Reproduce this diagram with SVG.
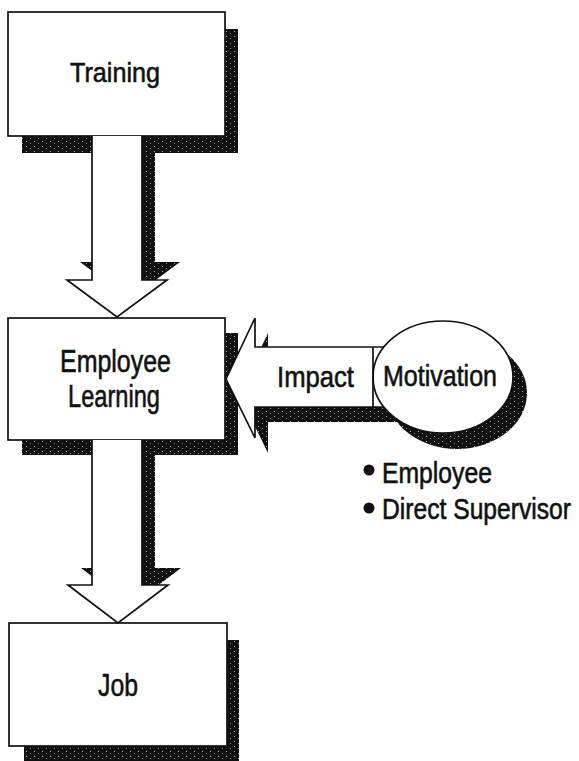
<svg xmlns="http://www.w3.org/2000/svg" width="579" height="761" viewBox="0 0 579 761">
<defs>
<pattern id="stip" width="8" height="5" patternUnits="userSpaceOnUse">
<rect width="8" height="5" fill="#111"/>
<rect x="2" y="1" width="1" height="1" fill="#aaa"/>
<rect x="6" y="3" width="1" height="1" fill="#888"/>
</pattern>
</defs>
<style>
.sh{fill:url(#stip);stroke:none}
.box{fill:#fff;stroke:#111;stroke-width:1.7}
.fill{fill:#fff;stroke:none}
.ln{fill:none;stroke:#111;stroke-width:1.7;stroke-linejoin:miter}
.t{font-family:"Liberation Sans",Arial,sans-serif;fill:#111;stroke:#111;stroke-width:0.6}
</style>
<rect width="579" height="761" fill="#fff"/>

<!-- arrow shadows -->
<g id="arrow-shadows">
<polygon class="sh" points="105,118 155,118 155,262 180,262 130,299 80,262 105,262"/>
<polygon class="sh" points="105,423 155,423 155,568 181,568 131,606 81,568 105,568"/>
<polygon class="sh" points="239,394 268,333 268,362 400,362 400,422 268,422 268,453"/>
</g>

<!-- node shadows -->
<g id="node-shadows">
<rect class="sh" x="22" y="29" width="216" height="124"/>
<rect class="sh" x="22" y="333" width="216" height="122"/>
<rect class="sh" x="24" y="640" width="215" height="121"/>
<ellipse class="sh" cx="457" cy="393" rx="70" ry="56"/>
</g>

<g id="training">
<rect class="box" x="8" y="12" width="217" height="124"/>
<text class="t" x="70" y="82" font-size="28" textLength="90" lengthAdjust="spacingAndGlyphs">Training</text>
</g>

<g id="employee-learning">
<rect class="box" x="8" y="318" width="217" height="122"/>
<text class="t" x="60" y="372" font-size="32" textLength="111" lengthAdjust="spacingAndGlyphs">Employee</text>
<text class="t" x="68" y="407" font-size="32" textLength="92" lengthAdjust="spacingAndGlyphs">Learning</text>
</g>

<g id="job">
<rect class="box" x="9" y="623" width="218" height="123"/>
<text class="t" x="98" y="696" font-size="32" textLength="40" lengthAdjust="spacingAndGlyphs">Job</text>
</g>

<g id="connectors">
<g id="arrow-training-learning">
<polygon class="fill" points="92,136 142,136 142,280 167,280 117,317 67,280 92,280"/>
<polyline class="ln" points="92,136 92,280 67,280 117,317 167,280 142,280 142,136"/>
</g>
<g id="arrow-learning-job">
<polygon class="fill" points="92,440 142,440 142,585 168,585 118,623 68,585 92,585"/>
<polyline class="ln" points="92,440 92,585 68,585 118,623 168,585 142,585 142,440"/>
</g>
<g id="arrow-impact">
<polygon class="box" points="226,379 255,318 255,347 395,347 395,407 255,407 255,438"/>
<text class="t" x="277" y="387" font-size="30" textLength="77" lengthAdjust="spacingAndGlyphs">Impact</text>
</g>
</g>

<g id="motivation">
<ellipse class="box" cx="443" cy="377" rx="70" ry="56"/>
<line class="ln" x1="373" y1="347" x2="373" y2="407"/>
<text class="t" x="383" y="386" font-size="30" textLength="114" lengthAdjust="spacingAndGlyphs">Motivation</text>
</g>

<g id="motivation-list">
<circle cx="369" cy="470" r="5.5" fill="#111"/>
<text class="t" x="382" y="483" font-size="29" textLength="110" lengthAdjust="spacingAndGlyphs">Employee</text>
<circle cx="369" cy="508" r="5.5" fill="#111"/>
<text class="t" transform="translate(382,519) scale(0.85,1)" x="0" y="0" font-size="29">Direct Supervisor</text>
</g>
</svg>
